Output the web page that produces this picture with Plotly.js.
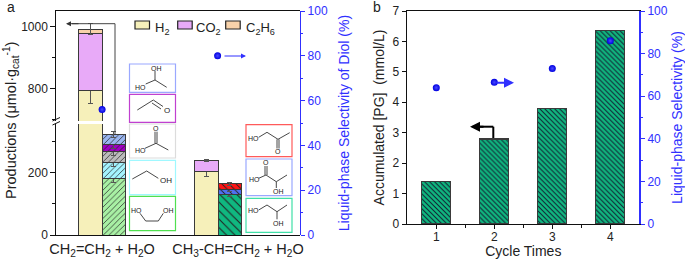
<!DOCTYPE html>
<html><head><meta charset="utf-8">
<script src="https://cdn.plot.ly/plotly-3.0.1.min.js"></script>
<style>html,body{margin:0;padding:0;background:#fff}#c{width:685px;height:259px}</style>
</head><body><div id="c"></div>
<script>
// ---- data: panel a ----
const barsGas = [0, 5];
const h2 = [793, 206];
const h2Err = [40, 16];
const co2 = [187, 35];
const co2Err = [0, 3];
const c2h6 = [13, 0];
const c2h6Err = [17, 0];
const eg = [182], egErr = [14];
const etoh = [53], etohErr = [14];
const acoh = [35], acohErr = [14];
const mecho = [22], mechoErr = [12];
const pgTop = [31], pgTopErr = [10];
const pg = [131], pgErr = [7];
const lactic = [17], lacticErr = [7];
const hydroxy = [17], hydroxyErr = [4];
const selX = [0.5, 5.48];
const selA = [56, 80];
const categoryPos = [0.5, 6.36];
const categoryLabels = ['CH<sub>2</sub>=CH<sub>2</sub> + H<sub>2</sub>O', 'CH<sub>3</sub>-CH=CH<sub>2</sub> + H<sub>2</sub>O'];
const leftLowerTicks = [0, 200], leftLowerMinor = [100, 300];
const leftUpperTicks = [800, 1000], leftUpperMinor = [700, 900];
const pctTicks = [0, 20, 40, 60, 80, 100], pctMinor = [10, 30, 50, 70, 90];
// ---- data: panel b ----
const cycles = [1, 2, 3, 4];
const cycleMinor = [1.5, 2.5, 3.5];
const accumulated = [1.4, 2.8, 3.8, 6.35];
const selB = [64, 66.5, 73, 86];

const W = 685, H = 259;
const px = x => x / W, py = y => 1 - y / H;
const edge = '#3a3a3a';
const blue = '#3030ff';
const font = 'Liberation Sans, Arial, sans-serif';

function bar(x, y, err, color, hatch, size, fg) {
  const t = {type:'bar', x, y, width:1, showlegend:false, hoverinfo:'skip',
    marker:{color, line:{color:edge, width:1}},
    error_y:{type:'data', array:err, visible:true, color:'#555', thickness:1, width:2.5}};
  if (hatch) t.marker.pattern = {shape:hatch, size:size||4, solidity:0.18, fgcolor:fg||'#222', bgcolor:color, fillmode:'replace'};
  return t;
}
function stackFor(xa, ya) {
  return [
    bar(barsGas, h2, h2Err, '#f6f0ba'),
    bar(barsGas, co2, co2Err, '#e8aaf8'),
    bar(barsGas, c2h6, c2h6Err, '#f8d2aa'),
    bar([1], eg, egErr, '#a8f0a4', '/', 4),
    bar([1], etoh, etohErr, '#a4f4ff', '/', 4),
    bar([1], acoh, acohErr, '#bcbcbc', '/', 4),
    bar([1], mecho, mechoErr, '#a000c4', '/', 4),
    bar([1], pgTop, pgTopErr, '#9ab6f0', '/', 4),
    bar([6], pg, pgErr, '#10b880', '\\', 6),
    bar([6], lactic, lacticErr, '#5070f0', '\\', 5),
    bar([6], hydroxy, hydroxyErr, '#ff1414', '\\', 5)
  ].map(t => Object.assign(t, {xaxis:xa, yaxis:ya}));
}
const ballMarker = {symbol:'circle', size:7, color:'#0000e0', gradient:{type:'radial', color:'#4848ff'}, line:{width:0}};

const traces = [
  ...stackFor('x','y'),
  ...stackFor('x2','y2'),
  {type:'scatter', mode:'markers', x:selX, y:selA, xaxis:'x4', yaxis:'y3', marker:ballMarker, showlegend:false, hoverinfo:'skip'},
  {type:'bar', x:cycles, y:accumulated, width:0.5, xaxis:'x3', yaxis:'y4', showlegend:false, hoverinfo:'skip',
    marker:{color:'#10b880', line:{color:edge, width:1.4}, pattern:{shape:'\\', size:3.5, solidity:0.3, fgcolor:'#123', bgcolor:'#10b880', fillmode:'replace'}}},
  {type:'scatter', mode:'markers', x:cycles, y:selB, xaxis:'x3', yaxis:'y5', marker:ballMarker, showlegend:false, hoverinfo:'skip'}
];

const tickBase = {ticks:'outside', ticklen:4.5, tickwidth:1, showgrid:false, zeroline:false, showline:true, linewidth:1.2,
  tickfont:{size:12, family:font, color:'#222'}, linecolor:'#111', tickcolor:'#111'};
const minorOf = (vals, c) => ({tickvals:vals, ticks:'outside', ticklen:2.5, tickwidth:1, tickcolor:c||'#111', showgrid:false});
const xr = [-1.487, 9.01];
const layout = {
  width:W, height:H, margin:{l:0,r:0,t:0,b:0,pad:0}, paper_bgcolor:'#fff', plot_bgcolor:'rgba(0,0,0,0)',
  barmode:'stack', bargap:0, font:{family:font, color:'#222'}, showlegend:false,
  xaxis:{domain:[px(56),px(299.5)], range:xr, anchor:'y', tickvals:categoryPos, ticktext:categoryLabels, ticks:'',
    showgrid:false, zeroline:false, showline:true, linecolor:'#111', linewidth:1.2, tickfont:{size:14.5, family:font, color:'#222'}},
  xaxis2:{domain:[px(56),px(299.5)], range:xr, anchor:'y2', side:'top', showticklabels:false, ticks:'',
    showgrid:false, zeroline:false, showline:true, linecolor:'#111', linewidth:1.2},
  xaxis4:{domain:[px(56),px(299.5)], range:xr, anchor:'y3', visible:false},
  yaxis:Object.assign({}, tickBase, {domain:[py(235),py(124)], range:[0,358], anchor:'x', tickvals:leftLowerTicks, minor:minorOf(leftLowerMinor)}),
  yaxis2:Object.assign({}, tickBase, {domain:[py(121),py(11)], range:[696,1051.6], anchor:'x2', tickvals:leftUpperTicks, minor:minorOf(leftUpperMinor)}),
  yaxis3:Object.assign({}, tickBase, {domain:[py(235),py(11)], range:[0,100], anchor:'x4', side:'right', linecolor:blue, tickcolor:blue,
    tickfont:{size:12, family:font, color:blue}, tickvals:pctTicks, minor:minorOf(pctMinor, blue),
    title:{text:'Liquid-phase Selectivity of Diol (%)', font:{size:14, family:font, color:blue}, standoff:12}}),
  xaxis3:{domain:[px(407.3),px(639.3)], range:[0.5,4.5], anchor:'y4', tickvals:cycles, minor:minorOf(cycleMinor),
    ticks:'outside', ticklen:3.5, ticklabelstandoff:-2, tickcolor:'#111', mirror:true, showgrid:false, zeroline:false, showline:true, linecolor:'#111', linewidth:1.2,
    tickfont:{size:12, family:font, color:'#222'}, title:{text:'Cycle Times', font:{size:14, family:font, color:'#222'}, standoff:4}},
  yaxis4:Object.assign({}, tickBase, {domain:[py(224),py(11)], range:[0,7], anchor:'x3', dtick:1,
    title:{text:'Accumulated [PG]  (mmol/L)', font:{size:14, family:font, color:'#222'}, standoff:4}}),
  yaxis5:Object.assign({}, tickBase, {domain:[py(224),py(11)], range:[0,100], anchor:'x3', overlaying:'y4', side:'right', linecolor:blue, tickcolor:blue,
    tickfont:{size:12, family:font, color:blue}, tickvals:pctTicks, minor:minorOf(pctMinor, blue),
    title:{text:'Liquid-phase Selectivity (%)', font:{size:14, family:font, color:blue}, standoff:7}})
};

// helpers for page-placed furniture
const shapes = [], annotations = [];
const line = (x0,y0,x1,y1,c,w) => shapes.push({type:'line', xref:'paper', yref:'paper', layer:'above', x0:px(x0), y0:py(y0), x1:px(x1), y1:py(y1), line:{color:c, width:w}});
const poly = (pts,c,w) => { for (let i=0;i<pts.length-1;i++) line(pts[i][0],pts[i][1],pts[i+1][0],pts[i+1][1],c||'#333',w||0.9); };
const rect = (x0,y0,x1,y1,c,w,fill) => shapes.push({type:'rect', xref:'paper', yref:'paper', layer:'above', x0:px(x0), y0:py(y0), x1:px(x1), y1:py(y1), line:{color:c, width:w}, fillcolor:fill||'rgba(0,0,0,0)'});
const text = (x,y,t,size,color,extra) => annotations.push(Object.assign({xref:'paper', yref:'paper', x:px(x), y:py(y), text:t, showarrow:false, font:{size, family:font, color:color||'#222'}, xanchor:'center', yanchor:'middle', borderpad:0}, extra||{}));
const arrow = (x0,y,x1,c,w) => annotations.push({xref:'paper', yref:'paper', x:px(x1), y:py(y), axref:'pixel', ayref:'pixel', ax:x0-x1, ay:0, text:'', showarrow:true, arrowhead:2, arrowsize:1, arrowwidth:w, arrowcolor:c});

// panel letters
text(10.5, 7, 'a', 14, '#222');
text(377, 7, 'b', 14, '#222');
// left title of panel a spans the broken axis
text(11, 121, 'Productions (μmol·g<sub>cat</sub><sup>-1</sup>)', 14.5, '#222', {textangle:-90});

// axis break marks
line(52.5,121,60,117.5,'#111',1); line(52.5,125,60,121.5,'#111',1);
// legend
[[135,'#f6f0ba','H<sub>2</sub>',162],[177.7,'#e8aaf8','CO<sub>2</sub>',208.5],[225.7,'#f8d2aa','C<sub>2</sub>H<sub>6</sub>',260]].forEach(l => {
  rect(l[0],21,l[0]+14.5,29,'#222',1.2,l[1]);
  text(l[3],28.5,l[2],13,'#222');
});
// arrows panel a
line(115,134,115,23.7,'#444',1);
line(115,23.7,72,23.7,'#444',1);
arrow(80,23.7,66,'#333',1);
arrow(223,56,246,blue,1);
// arrows panel b
line(493.3,138,493.3,126.7,'#000',2);
line(493.3,126.7,478,126.7,'#000',2);
arrow(485,126.7,470,'#000',2);
arrow(495,82.7,514,blue,2);

// structure boxes
const bBlue='#9aa8ff', bPurple='#c040d0', bGrey='#dcdcdc', bCyan='#a0f8ff', bGreen='#50e050', bRed='#ff5a5a', bTeal='#40e0a8';
rect(129.5,64,175.5,92.3,bBlue,1.2);
rect(129.5,94.3,175.5,122.3,bPurple,1.2);
rect(129.5,124,175.5,158,bGrey,1.2);
rect(129.5,160.3,175.5,194.7,bCyan,1.2);
rect(129.5,196.3,175.5,230.7,bGreen,1.2);
rect(246,124.7,292,156.7,bRed,1.2);
rect(246,159,292,195.7,bBlue,1.2);
rect(246,198.3,292,232.3,bTeal,1.2);
const L = 7;
// 1,2-propanediol (box 1)
poly([[145.7,84],[155,80],[166.7,87.3]]); poly([[155,80],[155,71]]);
text(156,68.3,'OH',L); text(140.7,87.3,'HO',L);
// acetaldehyde
poly([[137.3,110],[153.3,100],[163,106.5]]); poly([[152,103],[161,109]]);
text(166.7,110,'O',L+1);
// acetic acid
poly([[145,148.3],[156,143.3],[168.3,150]]); poly([[155,143.3],[155,131.7]]); poly([[157,143.3],[157,131.7]]);
text(156,128.3,'O',L); text(140,150.7,'HO',L);
// ethanol
poly([[132.3,179],[146.7,171],[158.3,178.3]]);
text(165.7,180,'OH',L+1);
// ethylene glycol
poly([[140,213.3],[145.7,221],[158.3,221],[163.3,213.3]]);
text(136.7,210,'HO',L); text(168.3,210,'OH',L);
// hydroxyacetone
poly([[258.7,137.3],[267,132.3],[278,139.3],[289.7,132.7]]);
poly([[277,139.3],[277,148.5]]); poly([[279,139.3],[279,148.5]]);
text(253,138.3,'HO',L); text(278,151.7,'O',L);
// lactic acid
poly([[258.7,178.3],[266,175],[276.3,181.7],[287,175]]); poly([[276.3,181.7],[276.3,188]]);
poly([[265,175],[265,166]]); poly([[267,175],[267,166]]);
text(266,162.7,'O',L); text(254.3,179.3,'HO',L); text(278,191.7,'OH',L);
// 1,2-propanediol (box 3)
poly([[258.7,210],[267,205],[277,211.7],[287,205]]); poly([[277,211.7],[277,219.3]]);
text(253.7,210.7,'HO',L); text(278,223.3,'OH',L);

layout.shapes = shapes; layout.annotations = annotations;
Plotly.newPlot('c', traces, layout, {staticPlot:true, displayModeBar:false});
</script></body></html>
